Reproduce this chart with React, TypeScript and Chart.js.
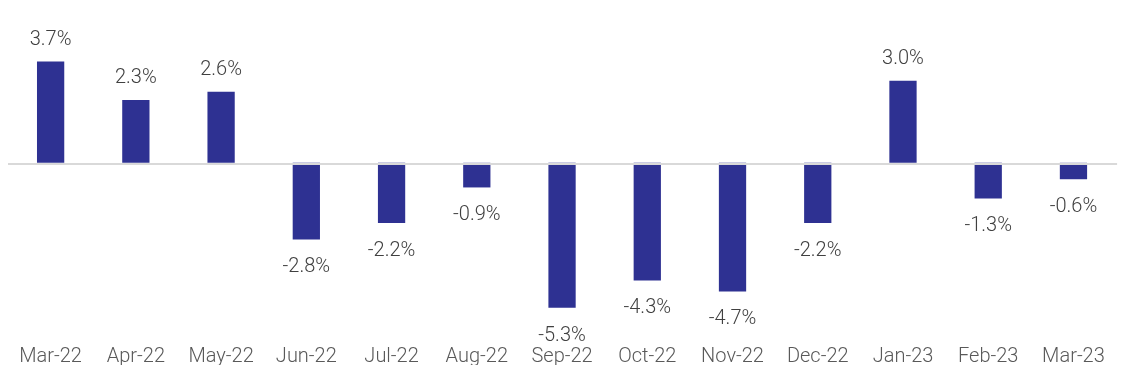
import React, { useEffect, useRef } from "react";
import { Chart, registerables } from "chart.js";

Chart.register(...registerables);

const categories = ["Mar-22", "Apr-22", "May-22", "Jun-22", "Jul-22", "Aug-22", "Sep-22", "Oct-22", "Nov-22", "Dec-22", "Jan-23", "Feb-23", "Mar-23"];
const values = [3.7, 2.3, 2.6, -2.8, -2.2, -0.9, -5.3, -4.3, -4.7, -2.2, 3.0, -1.3, -0.6];
const barColor = "#2E3192";
const FONT = "Roboto, 'Noto Sans', sans-serif";

const zeroLinePlugin = {
  id: "zeroLine",
  afterDatasetsDraw(chart: any) {
    const { ctx, chartArea, scales } = chart;
    const y = Math.round(scales.y.getPixelForValue(0)) + 1;
    ctx.save();
    ctx.strokeStyle = "#d9d9d9";
    ctx.lineWidth = 2;
    ctx.beginPath();
    ctx.moveTo(chartArea.left, y);
    ctx.lineTo(chartArea.right + 1, y);
    ctx.stroke();
    ctx.restore();
  },
};

const labelPlugin = {
  id: "valueLabels",
  afterDatasetsDraw(chart: any) {
    const { ctx } = chart;
    const meta = chart.getDatasetMeta(0);
    ctx.save();
    ctx.font = `300 20px ${FONT}`;
    ctx.fillStyle = "#404040";
    ctx.textAlign = "center";
    ctx.textBaseline = "middle";
    meta.data.forEach((bar: any, i: number) => {
      const v = values[i];
      const y = v >= 0 ? bar.y - 22 : bar.y + 28;
      ctx.fillText(`${v.toFixed(1)}%`, bar.x, y);
    });
    ctx.restore();
  },
};

export default function App() {
  const ref = useRef<HTMLCanvasElement>(null);
  useEffect(() => {
    if (!ref.current) return;
    const chart = new Chart(ref.current, {
      type: "bar",
      data: {
        labels: categories,
        datasets: [
          {
            data: values,
            backgroundColor: barColor,
            barPercentage: 0.32,
            categoryPercentage: 1,
          },
        ],
      },
      options: {
        animation: false,
        responsive: false,
        maintainAspectRatio: false,
        layout: { padding: { top: 26, left: 8, right: 5, bottom: 7 } },
        plugins: { legend: { display: false }, tooltip: { enabled: false } },
        scales: {
          x: {
            grid: { display: false, drawTicks: false },
            border: { display: false },
            ticks: { color: "#595959", font: { family: FONT, size: 20, weight: 300 as any }, padding: 18, maxRotation: 0, autoSkip: false },
            afterFit: (scale: any) => {
              scale.height = 38;
            },
          },
          y: { display: false, min: -6, max: 5 },
        },
      },
      plugins: [zeroLinePlugin, labelPlugin],
    });
    return () => chart.destroy();
  }, []);
  return (
    <div style={{ position: "fixed", left: 0, top: 0, width: 1123, height: 372, background: "#fff" }}>
      <canvas ref={ref} width={1123} height={372} style={{ display: "block" }} />
    </div>
  );
}
